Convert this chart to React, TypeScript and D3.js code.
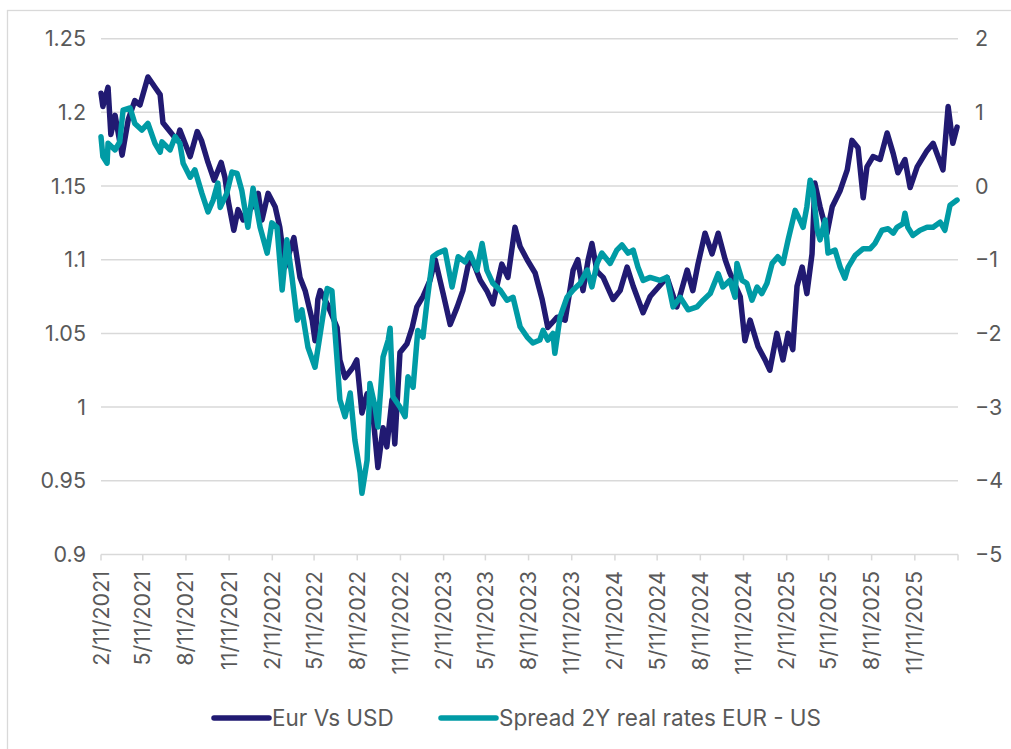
import * as d3 from "d3";
import { useEffect, useRef } from "react";

// EUR/USD, left axis
const eurDates = [
  "2021-02-11", "2021-02-15", "2021-02-26", "2021-03-04", "2021-03-13", "2021-03-28", "2021-04-10", "2021-04-24",
  "2021-05-05", "2021-05-22", "2021-06-06", "2021-06-17", "2021-06-23", "2021-07-08", "2021-07-23", "2021-07-29",
  "2021-08-20", "2021-09-04", "2021-09-13", "2021-09-27", "2021-10-10", "2021-10-25", "2021-11-02", "2021-11-09",
  "2021-11-21", "2021-11-30", "2021-12-11", "2021-12-30", "2022-01-12", "2022-01-20", "2022-02-02", "2022-02-17",
  "2022-02-27", "2022-03-10", "2022-03-29", "2022-04-11", "2022-04-22", "2022-05-07", "2022-05-13", "2022-05-19",
  "2022-05-24", "2022-06-08", "2022-06-29", "2022-07-05", "2022-07-16", "2022-08-02", "2022-08-10", "2022-08-21",
  "2022-09-01", "2022-09-14", "2022-09-24", "2022-10-05", "2022-10-13", "2022-10-24", "2022-10-30", "2022-11-10",
  "2022-11-25", "2022-12-06", "2022-12-16", "2022-12-29", "2023-01-13", "2023-01-24", "2023-02-10", "2023-02-25",
  "2023-03-12", "2023-03-24", "2023-04-08", "2023-04-19", "2023-04-30", "2023-05-14", "2023-05-27", "2023-06-15",
  "2023-06-28", "2023-07-13", "2023-07-24", "2023-08-08", "2023-08-25", "2023-09-09", "2023-09-21", "2023-10-11",
  "2023-10-28", "2023-11-14", "2023-11-24", "2023-12-05", "2023-12-16", "2023-12-24", "2024-01-04", "2024-01-17",
  "2024-02-07", "2024-02-22", "2024-03-08", "2024-03-21", "2024-04-11", "2024-04-26", "2024-06-01", "2024-06-22",
  "2024-07-14", "2024-07-26", "2024-08-06", "2024-08-21", "2024-09-05", "2024-09-18", "2024-10-03", "2024-10-13",
  "2024-11-04", "2024-11-14", "2024-11-25", "2024-12-12", "2024-12-27", "2025-01-06", "2025-01-21", "2025-02-03",
  "2025-02-14", "2025-02-24", "2025-03-05", "2025-03-16", "2025-03-26", "2025-04-06", "2025-04-12", "2025-04-23",
  "2025-05-08", "2025-05-19", "2025-06-05", "2025-06-20", "2025-06-30", "2025-07-13", "2025-07-24", "2025-08-01",
  "2025-08-14", "2025-08-29", "2025-09-13", "2025-09-26", "2025-10-06", "2025-10-21", "2025-11-01", "2025-11-16",
  "2025-12-07", "2025-12-20", "2026-01-10", "2026-01-21", "2026-01-31", "2026-02-09",
];
const eurValues = [
  1.213, 1.204, 1.217, 1.185, 1.198, 1.171, 1.195, 1.208,
  1.205, 1.224, 1.217, 1.212, 1.193, 1.187, 1.181, 1.188,
  1.17, 1.187, 1.181, 1.166, 1.154, 1.166, 1.156, 1.14,
  1.12, 1.134, 1.127, 1.136, 1.145, 1.127, 1.145, 1.136,
  1.122, 1.095, 1.115, 1.088, 1.079, 1.059, 1.045, 1.073,
  1.079, 1.07, 1.054, 1.032, 1.02, 1.027, 1.032, 0.996,
  1.009, 0.993, 0.959, 0.986, 0.973, 1.005, 0.975, 1.037,
  1.043, 1.054, 1.068, 1.075, 1.086, 1.1, 1.077, 1.056,
  1.068, 1.079, 1.102, 1.095, 1.086, 1.079, 1.07, 1.097,
  1.088, 1.122, 1.109, 1.1, 1.091, 1.073, 1.054, 1.061,
  1.059, 1.093, 1.1, 1.079, 1.1, 1.111, 1.092, 1.088,
  1.073, 1.079, 1.095, 1.082, 1.064, 1.075, 1.088, 1.068,
  1.093, 1.079, 1.097, 1.118, 1.104, 1.118, 1.1, 1.091,
  1.075, 1.045, 1.059, 1.041, 1.032, 1.025, 1.05, 1.032,
  1.05, 1.039, 1.082, 1.095, 1.077, 1.104, 1.152, 1.136,
  1.118, 1.136, 1.147, 1.161, 1.181, 1.176, 1.142, 1.163,
  1.17, 1.168, 1.186, 1.172, 1.159, 1.168, 1.149, 1.163,
  1.174, 1.179, 1.161, 1.204, 1.179, 1.19,
];

// Spread 2Y real rates EUR - US, right axis
const spreadDates = [
  "2021-02-11", "2021-02-15", "2021-02-24", "2021-02-26", "2021-03-13", "2021-03-23", "2021-03-30", "2021-04-14",
  "2021-04-24", "2021-05-09", "2021-05-22", "2021-06-06", "2021-06-17", "2021-06-21", "2021-07-08", "2021-07-19",
  "2021-07-29", "2021-08-05", "2021-08-20", "2021-08-30", "2021-09-14", "2021-09-27", "2021-10-08", "2021-10-18",
  "2021-10-23", "2021-11-06", "2021-11-17", "2021-11-28", "2021-12-08", "2021-12-21", "2022-01-01", "2022-01-16",
  "2022-01-31", "2022-02-10", "2022-02-21", "2022-03-04", "2022-03-14", "2022-03-25", "2022-04-05", "2022-04-15",
  "2022-04-28", "2022-05-13", "2022-05-21", "2022-06-08", "2022-06-18", "2022-06-29", "2022-07-05", "2022-07-16",
  "2022-07-27", "2022-08-06", "2022-08-17", "2022-08-21", "2022-09-01", "2022-09-07", "2022-09-18", "2022-09-24",
  "2022-10-05", "2022-10-16", "2022-10-20", "2022-10-26", "2022-11-10", "2022-11-21", "2022-11-27", "2022-12-08",
  "2022-12-18", "2022-12-29", "2023-01-07", "2023-01-19", "2023-01-30", "2023-02-14", "2023-03-01", "2023-03-14",
  "2023-03-29", "2023-04-08", "2023-04-23", "2023-05-04", "2023-05-14", "2023-05-27", "2023-06-11", "2023-06-26",
  "2023-07-09", "2023-07-24", "2023-08-08", "2023-08-20", "2023-09-04", "2023-09-11", "2023-09-21", "2023-10-02",
  "2023-10-06", "2023-10-17", "2023-11-01", "2023-11-14", "2023-11-29", "2023-12-14", "2023-12-24", "2024-01-04",
  "2024-01-14", "2024-02-01", "2024-02-15", "2024-02-26", "2024-03-10", "2024-03-21", "2024-03-31", "2024-04-11",
  "2024-04-26", "2024-05-17", "2024-06-01", "2024-06-14", "2024-06-29", "2024-07-16", "2024-08-04", "2024-08-17",
  "2024-09-01", "2024-09-18", "2024-09-28", "2024-10-13", "2024-10-24", "2024-10-28", "2024-11-08", "2024-11-18",
  "2024-11-29", "2024-12-10", "2024-12-20", "2024-12-31", "2025-01-11", "2025-01-23", "2025-02-03", "2025-02-14",
  "2025-03-01", "2025-03-11", "2025-03-18", "2025-03-26", "2025-04-02", "2025-04-08", "2025-04-17", "2025-04-23",
  "2025-05-04", "2025-05-10", "2025-05-25", "2025-06-05", "2025-06-15", "2025-06-22", "2025-07-07", "2025-07-24",
  "2025-08-08", "2025-08-18", "2025-09-02", "2025-09-15", "2025-09-26", "2025-10-04", "2025-10-17", "2025-10-21",
  "2025-10-27", "2025-11-07", "2025-11-22", "2025-12-07", "2025-12-20", "2026-01-04", "2026-01-14", "2026-01-25",
  "2026-02-09",
];
const spreadValues = [
  0.67, 0.4, 0.31, 0.58, 0.49, 0.6, 1.03, 1.06,
  0.85, 0.76, 0.85, 0.58, 0.46, 0.6, 0.49, 0.67,
  0.58, 0.31, 0.12, 0.22, -0.1, -0.35, -0.19, 0.04,
  -0.29, -0.1, 0.19, 0.17, -0.06, -0.56, -0.03, -0.56,
  -0.91, -0.5, -0.56, -1.41, -0.73, -1.24, -1.82, -1.68,
  -2.19, -2.46, -2.13, -1.39, -1.42, -2.36, -2.9, -3.13,
  -2.81, -3.45, -3.89, -4.17, -3.72, -2.68, -3.0, -3.27,
  -2.32, -2.09, -1.93, -2.86, -3.0, -3.13, -2.59, -2.73,
  -1.96, -2.05, -1.55, -0.96, -0.91, -0.87, -1.37, -0.96,
  -1.03, -0.91, -1.14, -0.78, -1.14, -1.32, -1.41, -1.55,
  -1.51, -1.91, -2.05, -2.13, -2.09, -1.96, -2.09, -2.0,
  -2.27, -1.78, -1.51, -1.41, -1.32, -1.14, -1.37, -1.05,
  -0.91, -1.05, -0.87, -0.8, -0.91, -0.87, -1.1, -1.28,
  -1.24, -1.28, -1.24, -1.64, -1.51, -1.68, -1.64, -1.55,
  -1.46, -1.19, -1.37, -1.28, -1.51, -1.05, -1.28, -1.32,
  -1.55, -1.37, -1.46, -1.32, -1.05, -0.96, -1.05, -0.73,
  -0.33, -0.46, -0.56, -0.28, 0.08, -0.05, -0.59, -0.73,
  -0.46, -0.91, -0.87, -1.1, -1.25, -1.1, -0.94, -0.85,
  -0.85, -0.78, -0.6, -0.58, -0.64, -0.56, -0.51, -0.37,
  -0.56, -0.67, -0.6, -0.56, -0.56, -0.49, -0.6, -0.26,
  -0.19,
];

const xTickLabels = [
  "2/11/2021", "5/11/2021", "8/11/2021", "11/11/2021",
  "2/11/2022", "5/11/2022", "8/11/2022", "11/11/2022",
  "2/11/2023", "5/11/2023", "8/11/2023", "11/11/2023",
  "2/11/2024", "5/11/2024", "8/11/2024", "11/11/2024",
  "2/11/2025", "5/11/2025", "8/11/2025", "11/11/2025",
];
const xEnd = "2/11/2026";
const leftTicks = [0.9, 0.95, 1, 1.05, 1.1, 1.15, 1.2, 1.25];
const rightTicks = [-5, -4, -3, -2, -1, 0, 1, 2];
const seriesNames = ["Eur Vs USD", "Spread 2Y real rates EUR - US"];
const seriesColors = ["#211a72", "#009ba5"];

export default function App() {
  const svgRef = useRef<SVGSVGElement>(null);

  useEffect(() => {
    document.body.style.margin = "0";
    const svg = d3.select(svgRef.current);
    svg.selectAll("*").remove();

    const font = "Inter, 'Noto Sans', sans-serif";
    const textColor = "#595959";
    const gridColor = "#d9d9d9";
    const axisSize = 21.5;

    const parseDate = d3.timeParse("%Y-%m-%d");
    const parseTick = d3.timeParse("%m/%d/%Y");

    const left = 101, right = 958, top = 38.7, bottom = 554.4;

    const x = d3.scaleTime()
      .domain([parseTick(xTickLabels[0]), parseTick(xEnd)])
      .range([left, right]);
    const yLeft = d3.scaleLinear().domain([0.9, 1.25]).range([bottom, top]);
    const yRight = d3.scaleLinear().domain([-5, 2]).range([bottom, top]);

    // chart border
    svg.append("rect")
      .attr("x", 7.5).attr("y", 10.5)
      .attr("width", 1100).attr("height", 900)
      .attr("fill", "none")
      .attr("stroke", gridColor)
      .attr("stroke-width", 1.3);

    // gridlines
    svg.append("g")
      .selectAll("line")
      .data(leftTicks.slice(1))
      .enter()
      .append("line")
      .attr("x1", left).attr("x2", right)
      .attr("y1", d => yLeft(d)).attr("y2", d => yLeft(d))
      .attr("stroke", gridColor)
      .attr("stroke-width", 1.5);

    // bottom axis line and ticks
    svg.append("line")
      .attr("x1", left).attr("x2", right)
      .attr("y1", bottom).attr("y2", bottom)
      .attr("stroke", gridColor)
      .attr("stroke-width", 1.5);

    const tickDates = [...xTickLabels, xEnd].map(s => parseTick(s));
    svg.append("g")
      .selectAll("line")
      .data(tickDates)
      .enter()
      .append("line")
      .attr("x1", d => x(d)).attr("x2", d => x(d))
      .attr("y1", bottom).attr("y2", bottom + 6)
      .attr("stroke", gridColor)
      .attr("stroke-width", 1.5);

    // x tick labels, rotated
    svg.append("g")
      .selectAll("text")
      .data(xTickLabels)
      .enter()
      .append("text")
      .attr("transform", d => `translate(${x(parseTick(d))}, 571) rotate(-90)`)
      .attr("dy", "0.35em")
      .attr("text-anchor", "end")
      .attr("font-family", font)
      .attr("font-size", axisSize)
      .attr("fill", textColor)
      .text(d => d);

    // left axis labels
    svg.append("g")
      .selectAll("text")
      .data(leftTicks)
      .enter()
      .append("text")
      .attr("x", 86)
      .attr("y", d => yLeft(d))
      .attr("dy", "0.35em")
      .attr("text-anchor", "end")
      .attr("font-family", font)
      .attr("font-size", axisSize)
      .attr("fill", textColor)
      .text(d => String(d));

    // right axis labels
    const fmt = d3.format("d");
    svg.append("g")
      .selectAll("text")
      .data(rightTicks)
      .enter()
      .append("text")
      .attr("x", 975)
      .attr("y", d => yRight(d))
      .attr("dy", "0.35em")
      .attr("text-anchor", "start")
      .attr("font-family", font)
      .attr("font-size", axisSize)
      .attr("fill", textColor)
      .text(d => fmt(d));

    // series
    const eurData = eurDates.map((d, i) => ({ date: parseDate(d), value: eurValues[i] }));
    const spreadData = spreadDates.map((d, i) => ({ date: parseDate(d), value: spreadValues[i] }));

    const lineLeft = d3.line().x(d => x(d.date)).y(d => yLeft(d.value));
    const lineRight = d3.line().x(d => x(d.date)).y(d => yRight(d.value));

    svg.append("path")
      .datum(eurData)
      .attr("d", lineLeft)
      .attr("fill", "none")
      .attr("stroke", seriesColors[0])
      .attr("stroke-width", 5.5)
      .attr("stroke-linejoin", "round")
      .attr("stroke-linecap", "round");

    svg.append("path")
      .datum(spreadData)
      .attr("d", lineRight)
      .attr("fill", "none")
      .attr("stroke", seriesColors[1])
      .attr("stroke-width", 5.5)
      .attr("stroke-linejoin", "round")
      .attr("stroke-linecap", "round");

    // legend
    const legendX = [214, 441];
    const legend = svg.append("g")
      .selectAll("g")
      .data(seriesNames)
      .enter()
      .append("g")
      .attr("transform", (d, i) => `translate(${legendX[i]}, 718)`);
    legend.append("line")
      .attr("x1", 0).attr("x2", 55)
      .attr("stroke", (d, i) => seriesColors[i])
      .attr("stroke-width", 5.5)
      .attr("stroke-linecap", "round");
    legend.append("text")
      .attr("x", 58)
      .attr("dy", "0.35em")
      .attr("font-family", font)
      .attr("font-size", 22.5)
      .attr("fill", textColor)
      .text(d => d);
  }, []);

  return <svg ref={svgRef} width={1011} height={749} style={{ display: "block" }} />;
}
